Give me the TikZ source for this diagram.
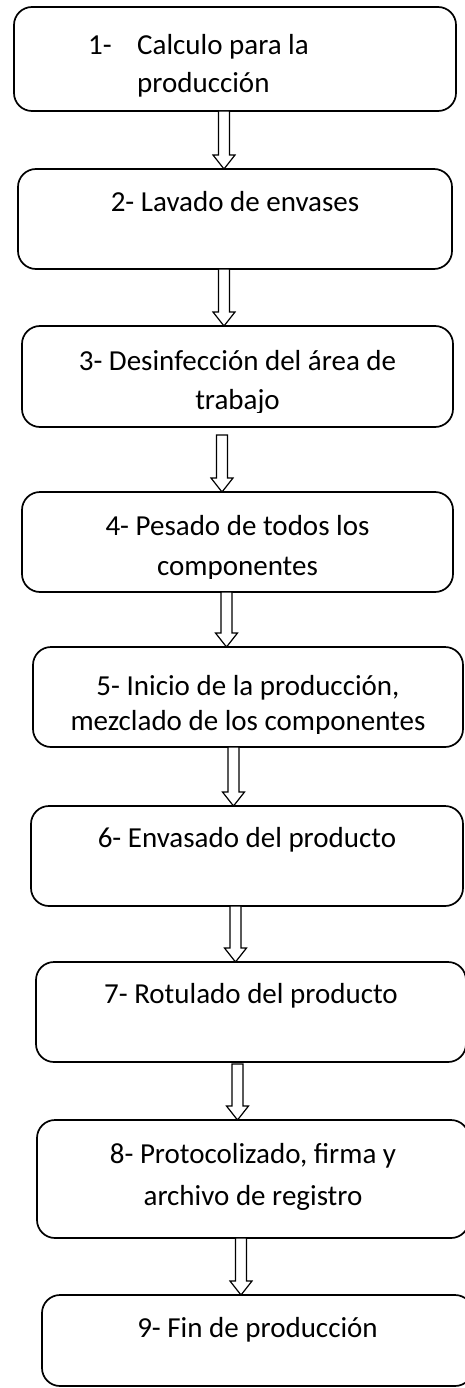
\documentclass[tikz,border=0pt]{standalone}
\usepackage{fontspec}
\setmainfont{Carlito}
\usetikzlibrary{calc}
\newcommand\blkarrow[4]{% #1 from, #2 to, #3 x centre, #4 gap below box
  \draw[blk] let \p1=(#1.south), \p2=(#2.north) in
    ({#3pt-5.5pt},{\y1-#4pt}) -- ({#3pt+5.5pt},{\y1-#4pt}) --
    ({#3pt+5.5pt},{\y2+14pt}) -- ({#3pt+11pt},{\y2+14pt}) --
    ({#3pt},{\y2}) -- ({#3pt-11pt},{\y2+14pt}) --
    ({#3pt-5.5pt},{\y2+14pt}) -- cycle;}
\begin{document}
\begin{tikzpicture}[x=1pt,y=-1pt,
  box/.style={draw, line width=1.7pt, rounded corners=18pt, inner sep=0pt,
    outer sep=0pt, anchor=north west},
  txt/.style={font=\fontsize{29}{36}\selectfont, inner sep=0pt, anchor=base},
  blk/.style={draw, line width=1.2pt, fill=white, line join=miter}]
\useasboundingbox (0,0) rectangle (464,1388);
% boxes
\node[box, minimum width=442pt, minimum height=104pt] (b1) at (14,7) {};
\node[box, minimum width=434pt, minimum height=100pt] (b2) at (18,169) {};
\node[box, minimum width=431pt, minimum height=101pt] (b3) at (22,326) {};
\node[box, minimum width=431pt, minimum height=100pt] (b4) at (22,492) {};
\node[box, minimum width=430pt, minimum height=100pt] (b5) at (33,647) {};
\node[box, minimum width=432pt, minimum height=100pt] (b6) at (31,806) {};
\node[box, minimum width=430pt, minimum height=100pt] (b7) at (36,962) {};
\node[box, minimum width=432pt, minimum height=118pt] (b8) at (37,1120) {};
\node[box, minimum width=431pt, minimum height=91pt] (b9) at (42,1295) {};
% texts
\node[txt, anchor=base west] (t1a) at (88,55) {1-};
\node[txt, anchor=base west] (t1b) at (137,55) {Calculo para la};
\node[txt, anchor=base west] (t1c) at (137,93) {producción};
\node[txt] (t2) at ($(b2.north)+(0,43)$) {2- Lavado de envases};
\begin{scope}
  \clip (b3.north west) rectangle ($(b3.north east)+(0,86)$);
  \node[txt] (t3a) at ($(b3.north)+(0,44)$) {3- Desinfección del área de};
  \node[txt] (t3b) at ($(b3.north)+(0,83)$) {trabajo};
\end{scope}
\begin{scope}
  \clip (b4.north west) rectangle ($(b4.north east)+(0,86)$);
  \node[txt] (t4a) at ($(b4.north)+(0,43)$) {4- Pesado de todos los};
  \node[txt] (t4b) at ($(b4.north)+(0,83)$) {componentes};
\end{scope}
\begin{scope}
  \clip (b5.north west) rectangle ($(b5.north east)+(0,86)$);
  \node[txt] (t5a) at ($(b5.north)+(0,48)$) {5- Inicio de la producción,};
  \node[txt] (t5b) at ($(b5.north)+(0,83)$) {mezclado de los componentes};
\end{scope}
\node[txt] (t6) at ($(b6.north)+(0,41)$) {6- Envasado del producto};
\node[txt] (t7) at ($(b7.north)+(0,41)$) {7- Rotulado del producto};
\node[txt] (t8a) at ($(b8.north)+(0,43)$) {8- Protocolizado, firma y};
\node[txt] (t8b) at ($(b8.north)+(0,85)$) {archivo de registro};
\node[txt] (t9) at ($(b9.north)+(0,42)$) {9- Fin de producción};
% block arrows
\blkarrow{b1}{b2}{224}{0}
\blkarrow{b2}{b3}{224}{0}
\blkarrow{b3}{b4}{222}{8}
\blkarrow{b4}{b5}{226.5}{0}
\blkarrow{b5}{b6}{233.5}{0}
\blkarrow{b6}{b7}{235.5}{0}
\blkarrow{b7}{b8}{237.5}{2}
\blkarrow{b8}{b9}{241}{0}
\end{tikzpicture}
\end{document}
